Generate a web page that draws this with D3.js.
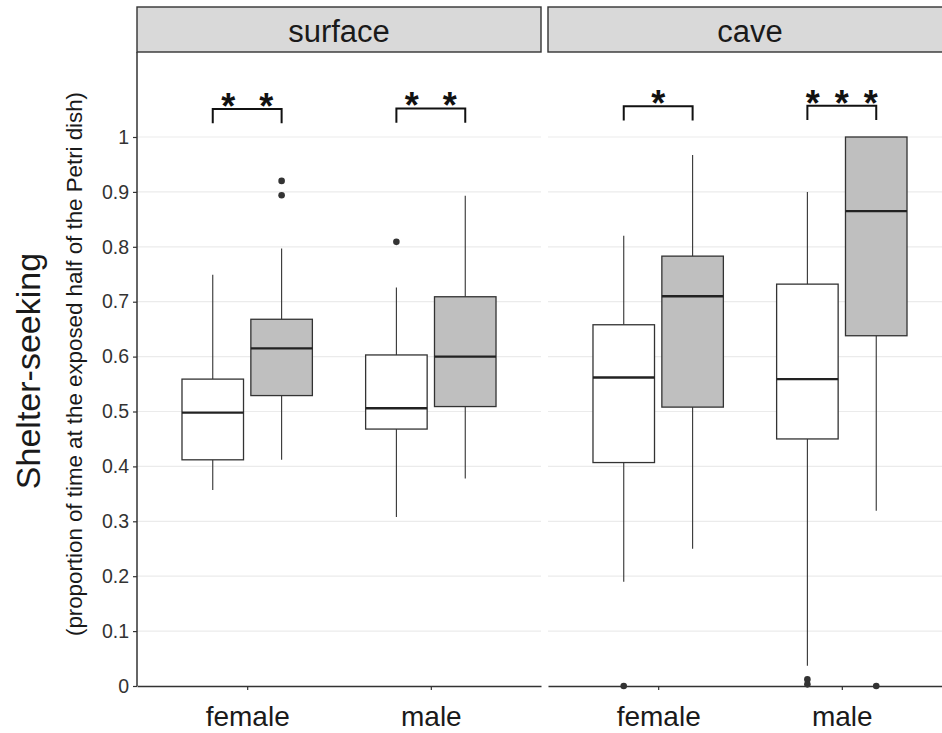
<!DOCTYPE html>
<html>
<head>
<meta charset="utf-8">
<script src="https://cdn.jsdelivr.net/npm/d3@7"></script>
<style>
  body { margin: 0; background: #fff; }
  svg text { font-family: "Liberation Sans", Arial, sans-serif; }
</style>
</head>
<body>
<div class="container"></div>
<script>

// data
var habitats = ["surface", "cave"];
var sexes = ["female", "male"];
var conditions = ["open", "shaded"];   // white box, grey box
var yTicks = [0, 0.1, 0.2, 0.3, 0.4, 0.5, 0.6, 0.7, 0.8, 0.9, 1];

// one entry per box: habitat, sex, condition
var boxHabitat  = ["surface", "surface", "surface", "surface", "cave", "cave", "cave", "cave"];
var boxSex      = ["female", "female", "male", "male", "female", "female", "male", "male"];
var boxCond     = ["open", "shaded", "open", "shaded", "open", "shaded", "open", "shaded"];
var lowWhisker  = [0.357, 0.412, 0.308, 0.378, 0.190, 0.250, 0.037, 0.319];
var q1          = [0.412, 0.529, 0.468, 0.509, 0.407, 0.508, 0.450, 0.638];
var medians     = [0.498, 0.615, 0.506, 0.600, 0.562, 0.710, 0.559, 0.865];
var q3          = [0.559, 0.668, 0.603, 0.709, 0.658, 0.783, 0.732, 1.000];
var highWhisker = [0.749, 0.797, 0.726, 0.893, 0.820, 0.967, 0.900, 1.000];
var outliers    = [[], [0.920, 0.894], [0.809], [], [0], [], [0.012, 0.003], [0]];

// significance brackets
var sigHabitat = ["surface", "surface", "cave", "cave"];
var sigSex     = ["female", "male", "female", "male"];
var sigStars   = [2, 2, 1, 3];
var sigTop     = [1.051, 1.052, 1.056, 1.057];

var W = 942, H = 733;
var font = "'Liberation Sans', Arial, sans-serif";

var svg = d3.select(".container")
            .append("svg")
            .attr("width", W)
            .attr("height", H);

var panelX = d3.scaleBand()
               .domain(habitats)
               .range([137, 952])
               .paddingInner(0.017);
var pw = panelX.bandwidth();

var y = d3.scaleLinear().domain([0, 1]).range([686, 137]);
var panelTop = 52, stripTop = 7;

var x = d3.scalePoint().domain(sexes).range([0, pw]).padding(0.6);
var step = x.step();
var dodge = d3.scalePoint().domain(conditions).range([-0.1875 * step, 0.1875 * step]);
var boxW = 0.335 * step;
var fills = {"open": "#ffffff", "shaded": "#bfbfbf"};

habitats.forEach(function (hab) {
	var g = svg.append("g").attr("transform", "translate(" + panelX(hab) + ",0)");

	// grid
	g.selectAll("line.grid")
	 .data(yTicks.filter(function (t) { return t > 0; }))
	 .enter().append("line")
	 .attr("x1", 0).attr("x2", pw)
	 .attr("y1", function (d) { return y(d); })
	 .attr("y2", function (d) { return y(d); })
	 .style("stroke", "#ebebeb")
	 .style("stroke-width", "1.2px");

	// strip
	g.append("rect")
	 .attr("x", 0).attr("y", stripTop)
	 .attr("width", pw).attr("height", panelTop - stripTop)
	 .style("fill", "#d9d9d9")
	 .style("stroke", "#333")
	 .style("stroke-width", "1.4px");
	g.append("text")
	 .attr("x", pw / 2).attr("y", 42)
	 .attr("text-anchor", "middle")
	 .style("font-size", "31px")
	 .style("fill", "#1a1a1a")
	 .text(hab);

	// boxes
	var idx = d3.range(boxHabitat.length).filter(function (i) { return boxHabitat[i] === hab; });
	idx.forEach(function (i) {
		var cx = x(boxSex[i]) + dodge(boxCond[i]);
		g.append("line")
		 .attr("x1", cx).attr("x2", cx)
		 .attr("y1", y(q3[i])).attr("y2", y(highWhisker[i]))
		 .style("stroke", "#333").style("stroke-width", "1.1px");
		g.append("line")
		 .attr("x1", cx).attr("x2", cx)
		 .attr("y1", y(q1[i])).attr("y2", y(lowWhisker[i]))
		 .style("stroke", "#333").style("stroke-width", "1.1px");
		g.append("rect")
		 .attr("x", cx - boxW / 2).attr("width", boxW)
		 .attr("y", y(q3[i])).attr("height", y(q1[i]) - y(q3[i]))
		 .style("fill", fills[boxCond[i]])
		 .style("stroke", "#333").style("stroke-width", "1.3px");
		g.append("line")
		 .attr("x1", cx - boxW / 2).attr("x2", cx + boxW / 2)
		 .attr("y1", y(medians[i])).attr("y2", y(medians[i]))
		 .style("stroke", "#222").style("stroke-width", "2.4px");
		g.selectAll(null)
		 .data(outliers[i])
		 .enter().append("circle")
		 .attr("cx", cx).attr("cy", function (d) { return y(d); })
		 .attr("r", 3.3)
		 .style("fill", "#333");
	});

	// brackets and stars
	d3.range(sigHabitat.length).filter(function (k) { return sigHabitat[k] === hab; })
	  .forEach(function (k) {
		var xa = x(sigSex[k]) + dodge("open"), xb = x(sigSex[k]) + dodge("shaded");
		var yt = y(sigTop[k]), yl = y(sigTop[k] - 0.026);
		g.append("path")
		 .attr("d", "M" + xa + "," + yl + "V" + yt + "H" + xb + "V" + yl)
		 .style("fill", "none")
		 .style("stroke", "#111")
		 .style("stroke-width", "2px");
		var n = sigStars[k];
		var gap = n === 3 ? 29 : 38;
		var xm = (xa + xb) / 2;
		d3.range(n).forEach(function (s) {
			g.append("text")
			 .attr("x", xm + (s - (n - 1) / 2) * gap)
			 .attr("y", yt + 10)
			 .attr("text-anchor", "middle")
			 .style("font-size", "36px")
			 .style("font-weight", "bold")
			 .style("fill", "#111")
			 .text("*");
		});
	});

	// x axis
	var xa = g.append("g")
	          .attr("transform", "translate(0," + y(0) + ")")
	          .call(d3.axisBottom(x).tickSize(4).tickSizeOuter(0));
	xa.select(".domain").style("stroke", "#333").style("stroke-width", "1.5px");
	xa.selectAll(".tick line").style("stroke", "#333").style("stroke-width", "1.2px");
	xa.selectAll(".tick text")
	  .attr("y", 40)
	  .attr("dy", null)
	  .style("font-family", font)
	  .style("font-size", "28px")
	  .style("fill", "#1a1a1a");

	if (hab === habitats[0]) {
		var ya = g.append("g")
		          .call(d3.axisLeft(y).tickValues(yTicks).tickSize(4).tickSizeOuter(0)
		                  .tickFormat(d3.format("")));
		ya.select(".domain").attr("d", "M0," + panelTop + "V" + y(0))
		  .style("stroke", "#333").style("stroke-width", "1.5px");
		ya.selectAll(".tick line").style("stroke", "#333").style("stroke-width", "1.2px");
		ya.selectAll(".tick text")
		  .attr("x", -8)
		  .style("font-family", font)
		  .style("font-size", "19.5px")
		  .style("fill", "#333");
	}
});

// y titles
svg.append("text")
   .attr("transform", "translate(40,371) rotate(-90)")
   .attr("text-anchor", "middle")
   .style("font-size", "34px")
   .style("fill", "#1a1a1a")
   .text("Shelter-seeking");
svg.append("text")
   .attr("transform", "translate(82,364) rotate(-90)")
   .attr("text-anchor", "middle")
   .style("font-size", "22.3px")
   .style("fill", "#1a1a1a")
   .text("(proportion of time at the exposed half of the Petri dish)");

</script>
</body>
</html>
